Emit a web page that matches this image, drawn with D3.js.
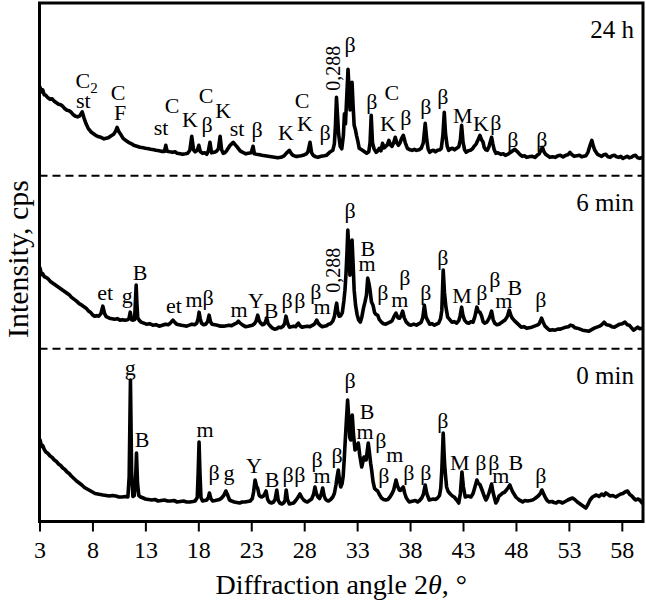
<!DOCTYPE html>
<html><head><meta charset="utf-8">
<script src="https://cdn.jsdelivr.net/npm/d3@7/dist/d3.min.js"></script>
<style>
body{margin:0;background:#fff}
svg{display:block}
text{font-family:"Liberation Serif","Times New Roman","DejaVu Serif",serif;fill:#000}
</style>
</head><body>
<svg id="chart" width="646" height="613" font-family="Liberation Serif, Times New Roman, serif"></svg>
<script>
// ---------- DATA ----------
const xTicks = [3, 8, 13, 18, 23, 28, 33, 38, 43, 48, 53, 58];
const panelNames = ["24 h", "6 min", "0 min"];

// [2theta (deg), intensity (a.u., offset within its panel)]
const trace24h = [
[3.05,88.5],[3.2,84],[3.3,86],[3.45,81],[3.6,80.5],[3.8,78],[4.0,76.5],[4.2,77],[4.4,74.5],[4.6,73],[4.8,71.5],[5.0,71],[5.2,69.5],[5.4,67],[5.6,65.5],[5.8,65],[6.0,63.5],[6.2,61],[6.4,59.5],[6.6,59],[6.8,60],[7.03,64],[7.2,58],[7.4,52],[7.6,47.5],[7.9,43.5],[8.1,42],[8.3,40.5],[8.6,39],[8.8,38.5],[9.1,37],[9.3,37.5],[9.5,38],[9.7,39.5],[10.0,41.5],[10.2,45],[10.33,48.5],[10.5,44],[10.7,41],[10.9,37.5],[11.2,35],[11.4,33.5],[11.7,32],[11.9,30.5],[12.2,29.5],[12.5,28.5],[12.8,28],[13.0,27.5],[13.3,27],[13.5,26.5],[13.8,26],[14.0,25.5],[14.3,25],[14.5,24.5],[14.8,24.5],[14.93,30.5],[15.05,24.5],[15.3,24],[15.6,23.5],[15.8,24],[16.0,22.5],[16.3,22],[16.5,21.5],[16.8,22],[17.0,22.5],[17.2,25.5],[17.38,39.5],[17.55,26],[17.7,24],[17.9,25.5],[18.05,30.5],[18.2,24],[18.4,22.5],[18.6,23],[18.8,21.5],[18.95,25],[19.1,33.5],[19.25,23],[19.5,23.5],[19.7,24.5],[19.9,27],[20.06,39.5],[20.2,26],[20.35,22.5],[20.5,23],[20.7,25.5],[21.0,30.5],[21.3,33.5],[21.5,31],[21.7,28.5],[21.95,25],[22.2,23.5],[22.5,22],[22.7,22.5],[23.0,23],[23.17,29.5],[23.3,22],[23.5,21.5],[23.8,21],[24.0,20.5],[24.3,20],[24.6,19.5],[24.9,19],[25.2,18.5],[25.5,18],[25.8,18.5],[26.1,20],[26.3,22.5],[26.6,25.5],[26.8,22],[26.95,20.5],[27.2,19.5],[27.4,19.5],[27.7,20],[27.9,20.5],[28.2,22],[28.35,24],[28.55,33.5],[28.7,23],[28.85,20.5],[29.1,19],[29.3,18.5],[29.6,19.5],[29.9,20],[30.1,20.5],[30.4,23.5],[30.7,25.5],[30.85,32],[30.95,50],[31.05,78.5],[31.15,60],[31.25,42],[31.4,29.5],[31.55,27],[31.7,40],[31.8,62],[31.9,52],[32.0,75],[32.14,106.5],[32.25,85],[32.33,66],[32.43,82],[32.52,93.5],[32.62,70],[32.72,50.5],[32.85,45.5],[32.95,40],[33.05,35.5],[33.2,27.5],[33.35,26.5],[33.5,25.5],[33.7,24],[33.9,22.5],[34.1,24],[34.22,33],[34.33,60.5],[34.45,33],[34.6,27],[34.8,23.5],[34.95,25],[35.1,27.5],[35.25,25],[35.4,32.5],[35.55,28],[35.7,29.5],[35.85,31],[36.0,35.5],[36.15,31],[36.3,29.5],[36.45,33],[36.6,38.5],[36.75,33],[36.9,30.5],[37.05,33],[37.2,37.5],[37.36,40.5],[37.55,33],[37.75,27.5],[38.0,26],[38.2,25.5],[38.4,26.5],[38.6,25.5],[38.85,26],[39.05,27.5],[39.25,33],[39.43,52.5],[39.58,36],[39.7,27],[39.85,23.5],[40.05,25],[40.2,25.5],[40.4,24],[40.6,25.5],[40.8,26],[40.95,27.5],[41.1,40.5],[41.23,63.5],[41.35,42],[41.5,30],[41.65,25.5],[41.85,27],[42.0,27.5],[42.2,26],[42.4,27.5],[42.6,29],[42.75,36],[42.87,50.5],[43.0,34],[43.15,26],[43.3,23.5],[43.5,25],[43.7,25.5],[43.9,27],[44.05,29.5],[44.25,32],[44.4,35.5],[44.6,40.5],[44.75,36],[44.9,33.5],[45.0,28.5],[45.15,26],[45.3,25.5],[45.45,29],[45.58,34],[45.7,38.5],[45.82,32],[45.95,26],[46.1,22.5],[46.3,23],[46.6,21.5],[46.8,22],[47.0,20.5],[47.3,22],[47.5,23.5],[47.7,25],[47.9,26.5],[48.05,25],[48.2,23.5],[48.4,21],[48.6,19.5],[48.8,20],[49.0,18.5],[49.25,19],[49.5,19.5],[49.8,18.5],[50.0,20.5],[50.2,22],[50.35,25.5],[50.5,28.5],[50.65,24],[50.8,21.5],[51.0,20],[51.2,18.5],[51.45,19],[51.7,18.5],[51.95,20],[52.2,20.5],[52.45,19],[52.7,20.5],[52.9,21],[53.1,23.5],[53.3,21],[53.5,19.5],[53.75,20],[54.0,20.5],[54.2,19],[54.4,19.5],[54.6,20],[54.8,23.5],[55.0,30.5],[55.17,35.5],[55.3,30],[55.45,25.5],[55.7,21.5],[55.9,20.5],[56.1,19.5],[56.3,21],[56.5,21.5],[56.7,19],[56.9,18.5],[57.1,20],[57.3,20.5],[57.5,19],[57.7,18.5],[57.9,19.5],[58.1,17.5],[58.3,18.5],[58.5,19.5],[58.7,18],[58.9,18.5],[59.1,20],[59.3,20.5],[59.5,18],[59.7,17.5],[59.93,18.5]
];

const trace6min = [
[3.05,80.5],[3.2,74],[3.3,75],[3.45,72],[3.6,71.5],[3.8,70],[4.0,67.5],[4.2,66],[4.4,64.5],[4.6,63],[4.8,61.5],[5.0,60],[5.2,58.5],[5.4,57],[5.6,55.5],[5.8,54],[6.0,51.5],[6.25,49.5],[6.5,47.5],[6.75,45],[7.0,43.5],[7.2,42],[7.4,40.5],[7.6,38],[7.8,36.5],[8.0,34],[8.2,32.5],[8.4,33],[8.6,32.5],[8.8,35],[8.98,42.5],[9.15,35],[9.3,32],[9.6,30.5],[9.85,30],[10.1,29.5],[10.35,30],[10.6,28.5],[10.85,29],[11.1,28.5],[11.3,29],[11.45,30],[11.57,36.5],[11.7,29],[11.85,28.5],[11.98,29],[12.05,45],[12.13,63.5],[12.2,45],[12.28,30.5],[12.45,28],[12.6,26.5],[12.85,25.5],[13.1,24.5],[13.4,25],[13.7,23.5],[14.0,24],[14.3,22.5],[14.6,23.5],[14.9,24.5],[15.15,24],[15.35,25.5],[15.6,28.5],[15.8,26],[15.95,24.5],[16.2,24],[16.4,23.5],[16.7,23],[16.9,22.5],[17.15,23.5],[17.4,24.5],[17.65,24],[17.85,25.5],[17.98,30],[18.07,36.5],[18.18,30],[18.3,25.5],[18.5,24],[18.7,24.5],[18.88,27],[19.02,33.5],[19.15,27],[19.3,24.5],[19.55,24],[19.8,23.5],[20.1,22.5],[20.4,22.5],[20.65,23],[20.9,23.5],[21.15,23],[21.4,24.5],[21.6,25.5],[21.78,27.5],[21.95,25.5],[22.2,23.5],[22.45,22],[22.7,22.5],[22.9,23],[23.1,23.5],[23.3,25],[23.45,27.5],[23.61,33.5],[23.75,28],[23.9,25.5],[24.05,24],[24.2,24.5],[24.35,27],[24.46,30.5],[24.6,25],[24.8,22.5],[25.0,20.5],[25.2,19.5],[25.4,20],[25.6,21.5],[25.8,21],[26.0,22.5],[26.15,25],[26.28,32.5],[26.42,26],[26.6,21.5],[26.8,22],[27.0,22.5],[27.2,22],[27.32,24],[27.45,25.5],[27.6,23],[27.8,21.5],[28.0,22],[28.3,22.5],[28.55,22],[28.8,23.5],[29.0,25],[29.18,28.5],[29.35,25],[29.5,23.5],[29.7,22],[29.9,22.5],[30.1,23],[30.3,24.5],[30.5,25],[30.7,27.5],[30.85,32],[31.0,42],[31.07,45.5],[31.15,38],[31.3,32.5],[31.45,33],[31.6,36],[31.75,48],[31.85,58.5],[31.95,75],[32.05,98.5],[32.12,118.5],[32.22,100],[32.32,73.5],[32.42,95],[32.52,108.5],[32.62,85],[32.72,58.5],[32.85,43.5],[33.0,34],[33.15,28.5],[33.3,26.5],[33.45,32],[33.6,40.5],[33.75,47],[33.88,53.5],[34.0,70.5],[34.1,66],[34.22,58.5],[34.35,47],[34.5,43.5],[34.65,36],[34.8,34],[34.94,33.5],[35.1,29],[35.3,26.5],[35.5,25],[35.7,24.5],[35.9,25.5],[36.1,26.5],[36.3,28],[36.5,32.5],[36.67,35.5],[36.85,31],[37.0,30.5],[37.15,33],[37.3,37.5],[37.45,31],[37.65,26.5],[37.9,24],[38.1,23.5],[38.35,24.5],[38.6,23.5],[38.85,25],[39.05,26.5],[39.2,31],[39.35,43.5],[39.5,32],[39.65,28.5],[39.85,24.5],[40.05,25],[40.3,23.5],[40.5,24.5],[40.7,25.5],[40.88,30],[41.0,38.5],[41.13,78.5],[41.25,56],[41.38,42],[41.55,31.5],[41.75,29],[41.95,26.5],[42.15,27],[42.4,25.5],[42.6,28],[42.72,32.5],[42.87,41.5],[43.0,33],[43.15,28.5],[43.35,26],[43.55,25.5],[43.75,27],[43.95,26.5],[44.12,32],[44.31,41.5],[44.45,37],[44.6,36.5],[44.75,33],[44.9,27],[45.05,25.5],[45.25,26.5],[45.45,30],[45.58,33.5],[45.7,37.5],[45.85,29],[46.0,25.5],[46.2,24],[46.4,24.5],[46.6,26],[46.8,27.5],[47.0,29],[47.2,32.5],[47.36,38.5],[47.5,34],[47.65,30.5],[47.85,28],[48.0,26.5],[48.25,24],[48.5,21.5],[48.75,22],[49.0,20.5],[49.25,21],[49.5,21.5],[49.75,22.5],[50.0,23.5],[50.2,25],[50.42,30.5],[50.55,27],[50.75,22.5],[51.0,20],[51.2,18.5],[51.45,19],[51.7,18.5],[51.95,19.5],[52.2,19.5],[52.45,20.5],[52.7,21.5],[52.95,22],[53.15,23.5],[53.35,23],[53.55,21],[53.8,20.5],[54.05,19.5],[54.3,18.5],[54.6,18],[54.9,17.5],[55.15,19],[55.4,20.5],[55.65,21.5],[55.9,22.5],[56.1,24],[56.33,26.5],[56.55,24],[56.8,23.5],[57.05,22],[57.3,21.5],[57.55,23],[57.8,24.5],[58.05,25],[58.3,26.5],[58.5,24],[58.7,23.5],[58.9,21],[59.1,18.5],[59.3,20],[59.5,21.5],[59.7,20],[59.93,20.5]
];

const trace0min = [
[3.05,81.5],[3.2,75],[3.3,76],[3.45,72],[3.6,69.5],[3.8,68],[4.0,65.5],[4.2,64],[4.4,61.5],[4.6,60],[4.8,57.5],[5.0,56],[5.2,53.5],[5.4,52],[5.6,49.5],[5.8,48],[6.0,45.5],[6.25,43],[6.5,40.5],[6.75,38.5],[7.0,36.5],[7.25,34],[7.5,32.5],[7.75,31],[8.0,29.5],[8.25,28],[8.5,27.5],[8.75,27],[9.0,26.5],[9.3,26],[9.6,25.5],[9.9,26],[10.2,25.5],[10.5,24.5],[10.8,24.5],[11.1,25],[11.35,24.5],[11.47,45],[11.59,141.5],[11.7,50],[11.82,25],[11.95,26],[12.07,40],[12.16,68.5],[12.26,38],[12.38,26],[12.55,24.5],[12.8,23.5],[13.0,22.5],[13.3,22],[13.6,21.5],[13.9,22],[14.2,20.5],[14.5,21],[14.8,21.5],[15.1,20.5],[15.4,20.5],[15.7,21],[16.0,19.5],[16.3,20],[16.6,20.5],[16.9,19.5],[17.2,19.5],[17.5,20],[17.7,20.5],[17.9,24],[17.99,50],[18.07,79.5],[18.15,50],[18.25,24],[18.4,20.5],[18.6,21],[18.8,21.5],[18.95,24],[19.05,28.5],[19.18,23],[19.35,20.5],[19.6,21],[19.8,21.5],[20.0,22],[20.2,23.5],[20.4,26],[20.6,30.5],[20.75,27],[20.95,21.5],[21.15,20.5],[21.4,19.5],[21.65,19],[21.9,18.5],[22.15,19.5],[22.4,19.5],[22.65,20],[22.9,20.5],[23.1,23],[23.22,29.5],[23.36,41.5],[23.5,35],[23.6,33.5],[23.75,26],[23.95,24.5],[24.15,25.5],[24.28,28],[24.4,30.5],[24.55,22],[24.7,19.5],[24.9,18.5],[25.1,19.5],[25.25,22],[25.41,31.5],[25.55,21],[25.7,18.5],[25.9,17.5],[26.1,19],[26.2,22],[26.3,31.5],[26.42,22],[26.6,17.5],[26.8,18],[27.0,18.5],[27.2,21],[27.4,24],[27.6,27.5],[27.8,23.5],[27.95,21.5],[28.15,20],[28.3,19.5],[28.5,21],[28.7,22.5],[28.88,27],[29.02,34.5],[29.15,28],[29.3,24.5],[29.45,23],[29.6,27],[29.75,33.5],[29.88,26],[30.0,22.5],[30.15,21],[30.3,20.5],[30.5,22],[30.7,24.5],[30.85,28],[31.0,36.5],[31.1,44],[31.22,51.5],[31.35,40],[31.45,34.5],[31.58,38],[31.68,45],[31.78,62],[31.88,81.5],[31.98,100],[32.1,121.5],[32.2,105],[32.3,84],[32.4,81.5],[32.54,106.5],[32.65,88],[32.8,71.5],[32.95,74],[33.11,78.5],[33.25,66],[33.43,54.5],[33.55,60],[33.65,64.5],[33.75,62],[33.85,61.5],[33.95,70],[34.05,78.5],[34.15,70],[34.28,58],[34.37,51.5],[34.5,40],[34.65,33],[34.8,31.5],[34.94,30.5],[35.1,27],[35.3,23.5],[35.5,22],[35.72,21.5],[35.9,22],[36.1,24.5],[36.3,28],[36.45,31.5],[36.6,38],[36.67,41.5],[36.8,36],[36.98,31.5],[37.1,31],[37.2,32.5],[37.36,34.5],[37.5,28],[37.65,23.5],[37.92,19.5],[38.1,20],[38.3,20.5],[38.5,21],[38.71,19.5],[38.9,21],[39.1,23.5],[39.25,27],[39.43,36.5],[39.58,28],[39.81,21.5],[40.0,22],[40.2,22.5],[40.4,22],[40.6,23.5],[40.78,26],[40.9,33.5],[41.0,52],[41.13,88.5],[41.22,66],[41.3,51.5],[41.45,34.5],[41.6,30],[41.8,27.5],[42.0,25.5],[42.17,24.5],[42.4,21.5],[42.6,18.5],[42.75,28],[42.9,49.5],[43.03,35],[43.21,24.5],[43.35,25],[43.5,25.5],[43.75,24.5],[43.95,28],[44.1,33.5],[44.31,41.5],[44.45,38],[44.6,37],[44.69,34.5],[44.85,30],[45.0,25.5],[45.16,21.5],[45.3,24],[45.45,28.5],[45.58,33],[45.7,37.5],[45.82,30],[45.95,24.5],[46.1,18.5],[46.25,21],[46.4,25.5],[46.6,27],[46.74,28.5],[46.9,29],[47.1,31.5],[47.28,34],[47.43,36.5],[47.55,33],[47.7,29.5],[47.85,27],[47.99,24.5],[48.15,23],[48.3,21.5],[48.5,20.5],[48.63,19.5],[48.85,21],[49.1,20.5],[49.35,21],[49.57,21.5],[49.8,23],[50.1,25.5],[50.3,28],[50.45,31.5],[50.6,28],[50.8,23.5],[50.95,21],[51.14,19.5],[51.4,20],[51.6,19],[51.8,18.5],[52.0,20],[52.2,19.5],[52.4,18.5],[52.65,20],[52.9,21.5],[53.1,22.5],[53.34,23.5],[53.55,22],[53.8,19.5],[54.0,18],[54.2,16.5],[54.4,15],[54.6,13.5],[54.8,17],[55.0,21.5],[55.23,24.5],[55.4,25.5],[55.6,26.5],[55.85,25],[56.1,27.5],[56.3,26],[56.49,28.5],[56.7,27],[56.9,25.5],[57.15,26],[57.43,24.5],[57.65,26],[57.9,27.5],[58.1,28],[58.3,29.5],[58.54,30.5],[58.75,27],[58.95,25.5],[59.15,23],[59.32,21.5],[59.5,22.5],[59.7,21.5],[59.93,18.5]
];

// phase labels: [text, 2theta, intensity] ("_" marks a subscript)
const labels24h = [
["C_2",7.45,87.5],["st",7.13,67.5],["C",10.43,75.5],["F",10.62,55.5],["st",14.49,40.5],
["C",15.52,62.5],["K",17.22,48.5],["C",18.73,72.5],["β",18.83,43.8],["K",20.34,57.5],
["st",21.66,39.5],["β",23.55,38.8],["K",26.28,35.5],["C",27.79,67.5],["K",28.08,44.5],
["β",29.97,35.5],["β",32.33,123.8],["β",34.4,67.2],["C",36.29,75.5],["K",35.91,44.5],
["β",37.61,50.5],["β",39.5,62.2],["β",41.1,72.2],["M",42.99,52.5],["K",44.69,44.5],
["β",46.1,45.5],["β",47.71,28.8],["β",50.45,28.8]
];
const labels6min = [
["et",9.2,48.5],["g",11.28,45.5],["B",12.5,68.5],["et",15.71,35.5],["m",17.6,41.8],
["β",18.92,43.5],["m",21.85,31.8],["Y",23.45,40.5],["B",24.87,30.5],["β",26.38,40.2],
["β",27.6,40.2],["β",29.11,49.5],["m",29.68,34.5],["β",32.33,130.2],["B",34.02,93],
["m",33.93,77.5],["β",35.44,48.5],["m",37.04,41.8],["β",37.51,63.5],["β",39.5,48.5],
["β",41.1,83.5],["M",42.9,45.5],["β",44.78,48.5],["β",46.01,61.8],["m",46.86,40.5],
["B",47.9,53.5],["β",50.35,41.8]
];
const labels0min = [
["g",11.56,146.5],["B",12.69,74.8],["m",18.64,84.8],["β",19.49,41.5],["g",20.9,41.5],
["Y",23.26,48.5],["B",24.96,34.8],["β",26.47,39.8],["β",27.6,39.8],["β",29.21,54.2],
["m",29.68,38.8],["β",31.1,58.2],["β",32.33,133.2],["B",33.93,102.5],["m",33.74,82.5],
["β",35.25,73.2],["m",36.57,59.8],["β",35.53,38.2],["β",37.89,41.5],["β",39.5,41.5],
["β",41.1,93.2],["M",42.7,51.5],["β",44.69,51.5],["β",45.92,51.5],["m",46.58,38.5],
["B",47.99,51.5],["β",50.35,38.2]
];
// rotated d-spacing labels: [text, 2theta, intensity]
const dLabels24h = [["0,288",31.38,107.5]];
const dLabels6min = [["0,288",31.38,78.5]];
const dLabels0min = [];

// ---------- DRAW ----------
(function () {
const FONT = '"Liberation Serif", "Times New Roman", serif';
const mLeft = 39.5, mRight = 643, mTop = 3, mBottom = 521.5;
const svg = d3.select("#chart");

const x = d3.scaleLinear().domain([3, 60]).range([mLeft, mRight]);
const panelH = (mBottom - mTop) / 3;
const panels = [
  {name: panelNames[0], data: trace24h, labels: labels24h, dl: dLabels24h},
  {name: panelNames[1], data: trace6min, labels: labels6min, dl: dLabels6min},
  {name: panelNames[2], data: trace0min, labels: labels0min, dl: dLabels0min}
];
panels.forEach((p, i) => {
  const b = mTop + panelH * (i + 1);
  p.y = d3.scaleLinear().domain([0, panelH]).range([b, b - panelH]);
  p.bottom = b;
});

svg.append("defs").append("clipPath").attr("id", "clip")
  .append("rect").attr("x", mLeft).attr("y", mTop).attr("width", mRight - mLeft).attr("height", mBottom - mTop);

// dashed separators
[panels[0].bottom, panels[1].bottom].forEach(yy => {
  svg.append("line").attr("x1", mLeft).attr("x2", mRight).attr("y1", yy).attr("y2", yy)
    .attr("stroke", "#000").attr("stroke-width", 2).attr("stroke-dasharray", "8,5");
});

const g = svg.append("g").attr("clip-path", "url(#clip)");
panels.forEach(p => {
  const line = d3.line().x(d => x(d[0])).y(d => p.y(d[1]));
  g.append("path").datum(p.data).attr("d", line)
    .attr("fill", "none").attr("stroke", "#000").attr("stroke-width", 3.6)
    .attr("stroke-linejoin", "round").attr("stroke-linecap", "round");
});

// labels
panels.forEach(p => {
  p.labels.forEach(l => {
    const t = svg.append("text").attr("x", x(l[1])).attr("y", p.y(l[2]))
      .attr("text-anchor", "middle").attr("font-size", 22).attr("font-family", FONT);
    if (l[0].includes("_")) {
      const parts = l[0].split("_");
      t.append("tspan").text(parts[0]);
      t.append("tspan").attr("dy", 5).attr("font-size", 15).text(parts[1]);
    } else t.text(l[0]);
  });
  p.dl.forEach(l => {
    svg.append("text").attr("transform", `translate(${x(l[1])},${p.y(l[2])}) rotate(-90)`)
      .attr("text-anchor", "middle").attr("font-size", 20).attr("font-family", FONT).text(l[0]);
  });
  svg.append("text").attr("x", 634).attr("y", p.bottom - panelH + 35)
    .attr("text-anchor", "end").attr("font-size", 25).attr("font-family", FONT).text(p.name);
});

// frame
svg.append("rect").attr("x", mLeft).attr("y", mTop).attr("width", mRight - mLeft).attr("height", mBottom - mTop)
  .attr("fill", "none").attr("stroke", "#000").attr("stroke-width", 3);

// x axis
const xAxis = d3.axisBottom(x).tickValues(xTicks).tickSize(10).tickPadding(9).tickSizeOuter(0);
const ax = svg.append("g").attr("transform", `translate(0,${mBottom})`).call(xAxis)
  .attr("font-family", FONT).attr("font-size", 24);
ax.select(".domain").remove();
ax.selectAll(".tick line").attr("stroke", "#000").attr("stroke-width", 2);
ax.selectAll(".tick text").attr("fill", "#000").attr("font-family", FONT);

// axis titles
const xt = svg.append("text").attr("x", (mLeft + mRight) / 2).attr("y", 594)
  .attr("text-anchor", "middle").attr("font-size", 28).attr("font-family", FONT);
xt.append("tspan").text("Diffraction angle 2");
xt.append("tspan").attr("font-style", "italic").text("θ");
xt.append("tspan").text(", °");

svg.append("text").attr("transform", `translate(28,259) rotate(-90)`)
  .attr("text-anchor", "middle").attr("font-size", 30).attr("font-family", FONT).text("Intensity, cps");
})();
</script>
</body></html>
